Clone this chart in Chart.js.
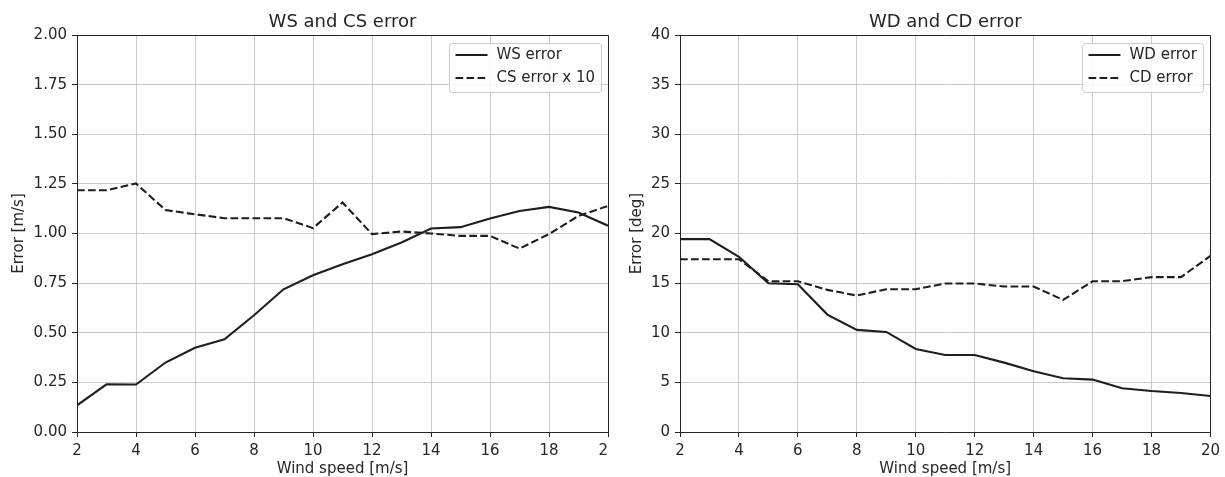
<!DOCTYPE html>
<html><head><meta charset="utf-8">
<script src="https://cdn.jsdelivr.net/npm/chart.js@4"></script>
<style>
html,body{margin:0;padding:0;background:#fff;width:1225px;height:477px;overflow:hidden;}
#c1{position:absolute;left:0;top:0;}
#c2{position:absolute;left:609px;top:0;background:#fff;}
</style></head><body>
<canvas id="c1" width="640" height="477"></canvas>
<canvas id="c2" width="616" height="477"></canvas>
<script>
const windSpeed = [2,3,4,5,6,7,8,9,10,11,12,13,14,15,16,17,18,19,20];
const wsError   = [0.134,0.240,0.239,0.350,0.424,0.467,0.588,0.719,0.790,0.845,0.896,0.955,1.025,1.032,1.076,1.113,1.134,1.106,1.039];
const csErrorX10= [1.218,1.218,1.252,1.118,1.097,1.077,1.077,1.077,1.027,1.156,0.997,1.010,1.000,0.988,0.988,0.924,0.997,1.089,1.139];
const wdError   = [19.43,19.43,17.65,14.99,14.89,11.83,10.29,10.08,8.37,7.76,7.76,6.99,6.12,5.41,5.28,4.40,4.13,3.93,3.63];
const cdError   = [17.41,17.41,17.41,15.19,15.19,14.32,13.75,14.39,14.39,14.96,14.96,14.66,14.66,13.31,15.19,15.19,15.60,15.60,17.75];

const leftTitle = 'WS and CS error';
const rightTitle = 'WD and CD error';
const xTitle = 'Wind speed [m/s]';
const leftYTitle = 'Error [m/s]';
const rightYTitle = 'Error [deg]';
const leftLabels = ['WS error', 'CS error x 10'];
const rightLabels = ['WD error', 'CD error'];

const TXT = '#262626';
const LINE = '#1e1e1e';
const GRID = '#cbcbcb';
const FONT = 'DejaVu Sans';
const FS = 15;

const pts = (xs, ys) => xs.map((x, i) => ({x, y: ys[i]}));

const framePlugin = {
  id: 'frame',
  afterDatasetsDraw(chart) {
    const {ctx, chartArea: ca} = chart;
    ctx.save();
    ctx.strokeStyle = TXT; ctx.lineWidth = 1;
    ctx.beginPath();
    const t = Math.round(ca.top) + 0.5, r = Math.round(ca.right) + 0.5;
    ctx.moveTo(Math.round(ca.left), t); ctx.lineTo(r, t); ctx.lineTo(r, Math.round(ca.bottom) + 1);
    ctx.stroke();
    ctx.restore();
  }
};

const titlePlugin = {
  id: 'plotTitle',
  afterDraw(chart, args, opts) {
    const {ctx, chartArea: ca} = chart;
    ctx.save();
    ctx.font = '18px "' + FONT + '"';
    ctx.fillStyle = TXT; ctx.textAlign = 'center'; ctx.textBaseline = 'alphabetic';
    ctx.fillText(opts.text, (ca.left + ca.right) / 2, 26.5);
    ctx.restore();
  }
};

const legendPlugin = {
  id: 'boxLegend',
  afterDraw(chart) {
    const {ctx, chartArea: ca} = chart;
    const items = chart.data.datasets;
    ctx.save();
    ctx.font = FS + 'px "' + FONT + '"';
    const tw = Math.max(...items.map(d => ctx.measureText(d.label).width));
    const w = 6 + 32 + 9 + tw + 7, h = 49;
    const right = Math.round(ca.right - 7) + 0.5, top = Math.round(ca.top + 8) + 0.5;
    const left = Math.round(right - w) + 0.5;
    const rr = 3;
    ctx.beginPath();
    ctx.moveTo(left + rr, top);
    ctx.arcTo(right, top, right, top + h, rr);
    ctx.arcTo(right, top + h, left, top + h, rr);
    ctx.arcTo(left, top + h, left, top, rr);
    ctx.arcTo(left, top, right, top, rr);
    ctx.closePath();
    ctx.fillStyle = 'rgba(255,255,255,0.8)'; ctx.fill();
    ctx.strokeStyle = '#cccccc'; ctx.lineWidth = 1; ctx.stroke();
    items.forEach((d, i) => {
      const y = top + 11.5 + i * 23;
      ctx.strokeStyle = d.borderColor; ctx.lineWidth = d.borderWidth;
      ctx.setLineDash(d.borderDash || []);
      ctx.beginPath(); ctx.moveTo(left + 6, y); ctx.lineTo(left + 38, y); ctx.stroke();
      ctx.setLineDash([]);
      ctx.fillStyle = TXT; ctx.textAlign = 'left'; ctx.textBaseline = 'middle';
      ctx.fillText(d.label, left + 47, y);
    });
    ctx.restore();
  }
};

function makeChart(id, cfg) {
  return new Chart(document.getElementById(id), {
    type: 'line',
    data: {
      datasets: [
        {label: cfg.labels[0], data: pts(windSpeed, cfg.solid), borderColor: LINE, borderWidth: 2.1, pointRadius: 0, fill: false, tension: 0},
        {label: cfg.labels[1], data: pts(windSpeed, cfg.dashed), borderColor: LINE, borderWidth: 2.1, borderDash: [7.7, 3.3], pointRadius: 0, fill: false, tension: 0}
      ]
    },
    options: {
      responsive: false, animation: false, devicePixelRatio: 1,
      layout: {padding: {left: 0, top: 35, right: cfg.padRight, bottom: 0}},
      plugins: {legend: {display: false}, tooltip: {enabled: false}, plotTitle: {text: cfg.title}},
      scales: {
        x: {
          type: 'linear', min: 2, max: 20,
          ticks: {stepSize: 2, color: TXT, font: {family: FONT, size: FS}, padding: 5, maxRotation: 0, autoSkip: false},
          grid: {color: GRID, lineWidth: 1, tickColor: TXT, tickLength: 5},
          border: {color: TXT, width: 1},
          title: {display: true, text: xTitle, color: TXT, font: {family: FONT, size: FS, lineHeight: 1}, padding: {top: 0, bottom: 0}},
          afterFit: s => { s.height = 45; }
        },
        y: {
          type: 'linear', min: 0, max: cfg.yMax,
          ticks: {stepSize: cfg.yStep, color: TXT, font: {family: FONT, size: FS}, padding: 5, callback: cfg.fmt},
          grid: {color: GRID, lineWidth: 1, tickColor: TXT, tickLength: 5},
          border: {color: TXT, width: 1},
          title: {display: true, text: cfg.yTitle, color: TXT, font: {family: FONT, size: FS, lineHeight: 1}, padding: {top: cfg.yTitlePad, bottom: 0}},
          afterFit: s => { s.width = cfg.yWidth; }
        }
      }
    },
    plugins: [framePlugin, titlePlugin, legendPlugin]
  });
}

makeChart('c1', {labels: leftLabels, solid: wsError, dashed: csErrorX10, title: leftTitle, yTitle: leftYTitle,
  yMax: 2, yStep: 0.25, fmt: v => Number(v).toFixed(2), yWidth: 77, padRight: 32, yTitlePad: 11.5});
makeChart('c2', {labels: rightLabels, solid: wdError, dashed: cdError, title: rightTitle, yTitle: rightYTitle,
  yMax: 40, yStep: 5, fmt: v => String(v), yWidth: 71, padRight: 13, yTitlePad: 21});
</script>
</body></html>
